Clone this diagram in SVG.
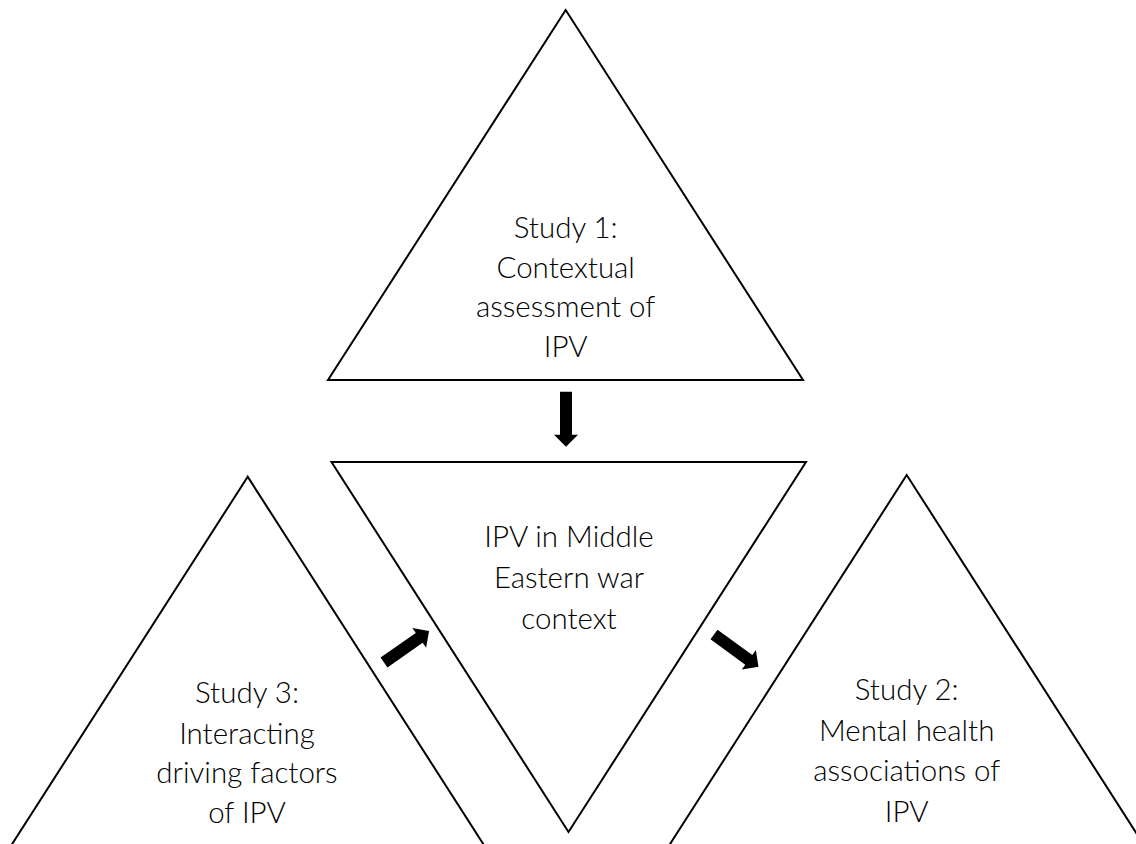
<svg xmlns="http://www.w3.org/2000/svg" xmlns:xlink="http://www.w3.org/1999/xlink" width="1136" height="844" viewBox="0 0 1136 844">
<style>
.tri{fill:#fff;stroke:#000;stroke-width:2;stroke-linejoin:miter}
.lbl{font-family:Lato,"Noto Sans","Liberation Sans",sans-serif;font-size:29.5px;font-weight:300;fill:#000;text-anchor:middle}
.arr{fill:#000}
</style>
<defs>
<path id="arrow" d="M0,-6 L43,-6 L43,-12 L55,0 L43,12 L43,6 L0,6 Z"/>
</defs>
<rect width="1136" height="844" fill="#fff"/>
<g id="study1">
<polygon class="tri" points="565.7,10 328,380 803,380"/>
<text class="lbl" x="565.7" y="238">Study 1:</text>
<text class="lbl" x="565.7" y="278">Contextual</text>
<text class="lbl" x="565.7" y="317">assessment of</text>
<text class="lbl" x="565.7" y="357">IPV</text>
</g>
<g id="center">
<polygon class="tri" points="331.5,462 806,462 568.5,832"/>
<text class="lbl" x="569" y="547">IPV in Middle</text>
<text class="lbl" x="569" y="588">Eastern war</text>
<text class="lbl" x="569" y="629">context</text>
</g>
<g id="study3">
<polygon class="tri" points="247.7,476.7 10.4,846.7 485,846.7"/>
<text class="lbl" x="247" y="703">Study 3:</text>
<text class="lbl" x="247" y="744">Interacting</text>
<text class="lbl" x="247" y="783">driving factors</text>
<text class="lbl" x="247" y="823">of IPV</text>
</g>
<g id="study2">
<polygon class="tri" points="906.7,475 669.4,845 1144,845"/>
<text class="lbl" x="906.7" y="700">Study 2:</text>
<text class="lbl" x="906.7" y="741">Mental health</text>
<text class="lbl" x="906.7" y="781">associations of</text>
<text class="lbl" x="906.7" y="822">IPV</text>
</g>
<g id="connectors">
<use xlink:href="#arrow" class="arr" transform="translate(566,391.7) rotate(90)"/>
<use xlink:href="#arrow" class="arr" transform="translate(384,662.5) rotate(-35)"/>
<use xlink:href="#arrow" class="arr" transform="translate(714,634.5) rotate(36)"/>
</g>
</svg>
